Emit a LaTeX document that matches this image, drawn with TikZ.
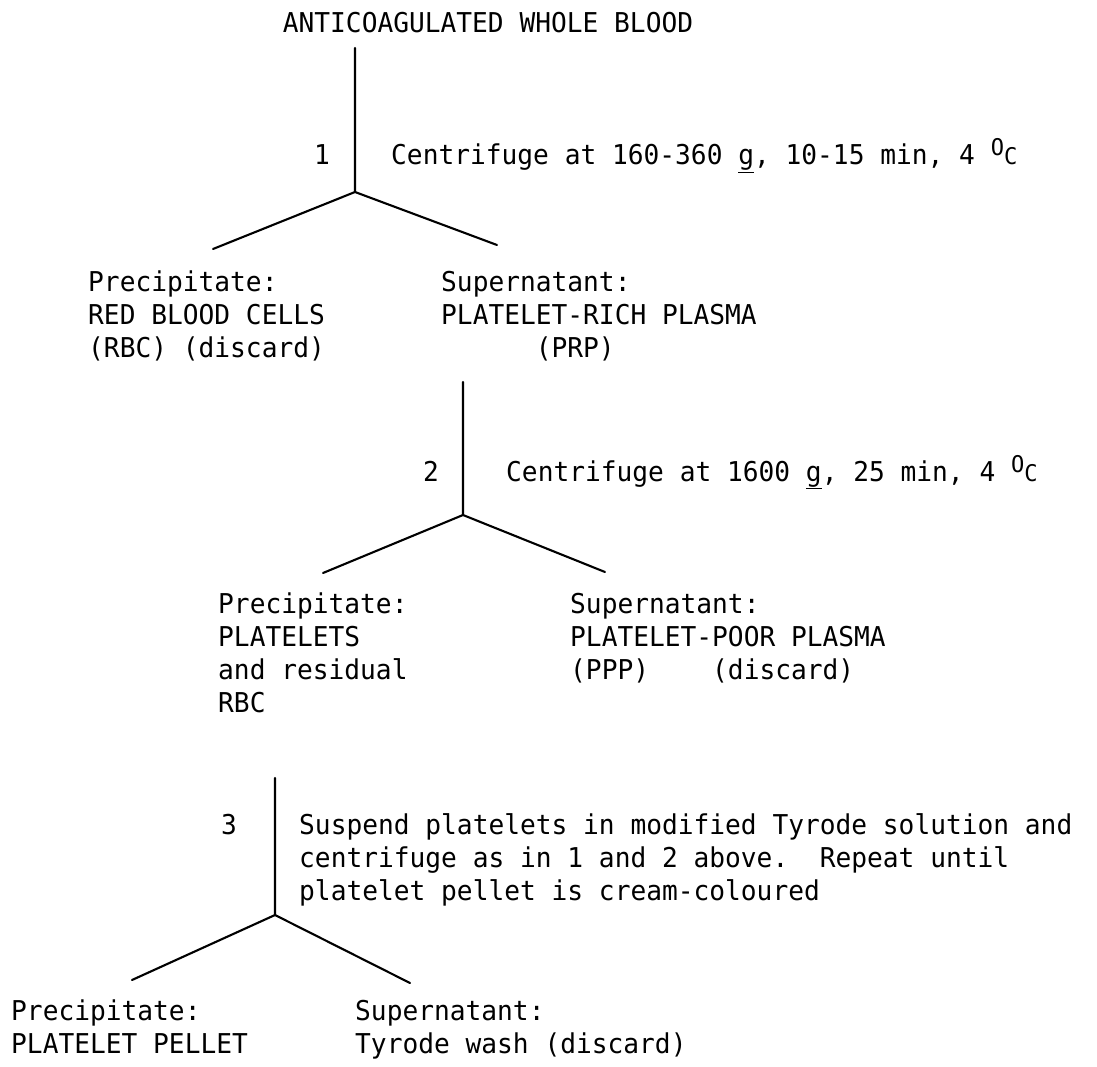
\documentclass[tikz,border=0pt]{standalone}
\usepackage{fontspec}
\setmainfont[FakeStretch=0.96]{DejaVu Sans Mono}
\newcommand{\degC}{{\fontsize{23}{23}\selectfont\raisebox{9pt}{O}C}}
\begin{document}
\begin{tikzpicture}[x=1pt,y=-1pt,
  txt/.style={inner sep=0pt, anchor=base west, align=left,
    font=\fontsize{27.3}{33}\selectfont},
  num/.style={inner sep=0pt, anchor=base, font=\fontsize{27.3}{33}\selectfont},
  branch/.style={line width=2.1pt, line cap=round, line join=round}]
\useasboundingbox[fill=white] (0,0) rectangle (1097,1067);
\frenchspacing
% title
\node[num] (title) at (488,33) {ANTICOAGULATED WHOLE BLOOD};
% step 1
\coordinate (v1t) at (355,48);
\coordinate (j1) at (355,192);
\coordinate (l1) at (213,249);
\coordinate (r1) at (497,245);
\draw[branch] (v1t) -- (j1) -- (l1);
\draw[branch] (j1) -- (r1);
\node[num] (n1) at (322,165) {1};
\node[txt] (s1) at (391,165) {Centrifuge at 160-360 \underline{g}, 10-15 min, 4 \degC};
\node[txt] (p1) at (88,357) {Precipitate:\\RED BLOOD CELLS\\(RBC) (discard)};
\node[txt] (u1) at (441,357) {Supernatant:\\PLATELET-RICH PLASMA\\\phantom{PLATEL}(PRP)};
% step 2
\coordinate (v2t) at (463,382);
\coordinate (j2) at (463,515);
\coordinate (l2) at (323,573);
\coordinate (r2) at (605,572);
\draw[branch] (v2t) -- (j2) -- (l2);
\draw[branch] (j2) -- (r2);
\node[num] (n2) at (431,481) {2};
\node[txt] (s2) at (506,481) {Centrifuge at 1600 \underline{g}, 25 min, 4 \degC};
\node[txt] (p2) at (218,712) {Precipitate:\\PLATELETS\\and residual\\RBC};
\node[txt] (u2) at (570,679) {Supernatant:\\PLATELET-POOR PLASMA\\(PPP)\phantom{xxxx}(discard)};
% step 3
\coordinate (v3t) at (275,778);
\coordinate (j3) at (275,915);
\coordinate (l3) at (132,980);
\coordinate (r3) at (410,983);
\draw[branch] (v3t) -- (j3) -- (l3);
\draw[branch] (j3) -- (r3);
\node[num] (n3) at (229,834) {3};
\node[txt] (s3) at (299,900) {Suspend platelets in modified Tyrode solution and\\centrifuge as in 1 and 2 above.~~Repeat until\\platelet pellet is cream-coloured};
\node[txt] (p3) at (11,1053) {Precipitate:\\PLATELET PELLET};
\node[txt] (u3) at (355,1053) {Supernatant:\\Tyrode wash (discard)};
\end{tikzpicture}
\end{document}
